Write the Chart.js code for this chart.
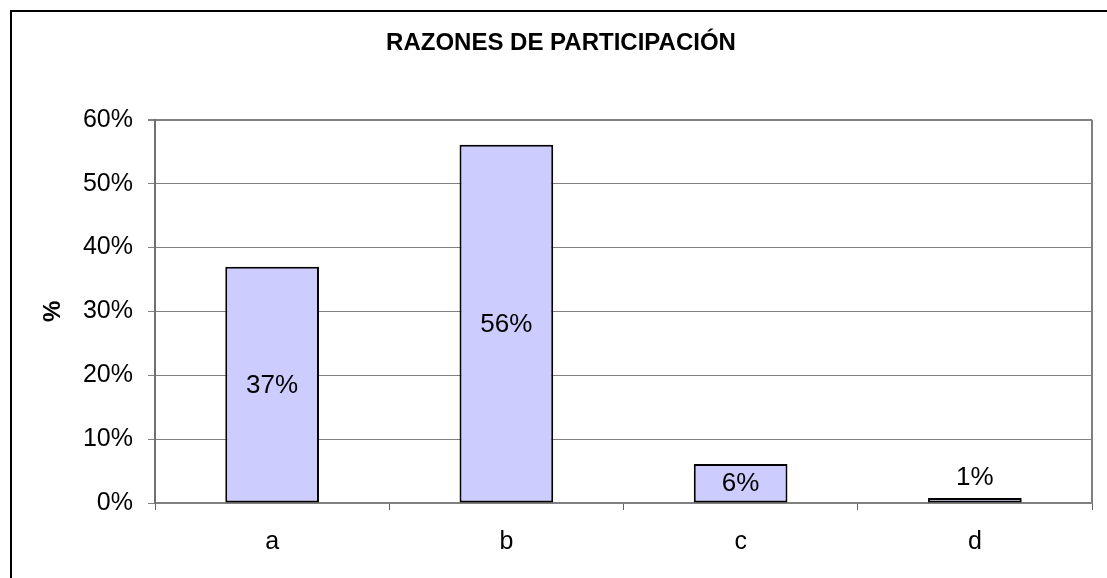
<!DOCTYPE html>
<html>
<head>
<meta charset="utf-8">
<script src="https://cdn.jsdelivr.net/npm/chart.js@4.4.0/dist/chart.umd.min.js"></script>
<style>
  html, body { margin: 0; padding: 0; background: #ffffff; }
  canvas { display: block; }
</style>
</head>
<body>
<canvas id="c" width="1107" height="578"></canvas>
<script>
const categories = ['a', 'b', 'c', 'd'];
const values = [37, 56.1, 6.1, 0.8];
const yTicks = [0, 10, 20, 30, 40, 50, 60];
const chartTitle = 'RAZONES DE PARTICIPACIÓN';
const yAxisTitle = '%';

const FONT = "'Liberation Sans', Arial, Helvetica, sans-serif";

const frame = {
  id: 'frame',
  beforeDraw(chart) {
    const ctx = chart.ctx;
    ctx.save();
    ctx.fillStyle = '#ffffff';
    ctx.fillRect(0, 0, chart.width, chart.height);
    ctx.strokeStyle = '#000000';
    ctx.lineWidth = 2;
    ctx.strokeRect(11, 11, 3000, 3000);
    ctx.restore();
  },
  beforeDatasetsDraw(chart) {
    const ctx = chart.ctx;
    const a = chart.chartArea;
    ctx.save();
    ctx.strokeStyle = '#808080';
    ctx.lineWidth = 2;
    ctx.beginPath();
    ctx.moveTo(a.right, a.top);
    ctx.lineTo(a.right, a.bottom);
    ctx.stroke();
    ctx.restore();
  }
};

const dataLabels = {
  id: 'dataLabels',
  afterDatasetsDraw(chart) {
    const ctx = chart.ctx;
    const meta = chart.getDatasetMeta(0);
    ctx.save();
    ctx.font = '26px ' + FONT;
    ctx.fillStyle = '#000000';
    ctx.textAlign = 'center';
    ctx.textBaseline = 'middle';
    meta.data.forEach((bar, i) => {
      const txt = Math.round(values[i]) + '%';
      const h = bar.base - bar.y;
      let y;
      if (h > 30) {
        y = (bar.y + bar.base) / 2 + 1;
      } else {
        y = bar.y - 20;
      }
      ctx.fillText(txt, bar.x, y);
    });
    ctx.restore();
  }
};

new Chart(document.getElementById('c'), {
  type: 'bar',
  data: {
    labels: categories,
    datasets: [{
      data: values,
      backgroundColor: '#CCCCFF',
      borderColor: '#000000',
      borderWidth: 2,
      borderSkipped: false,
      categoryPercentage: 1.0,
      barPercentage: 0.4
    }]
  },
  options: {
    responsive: false,
    animation: false,
    devicePixelRatio: 1,
    layout: { padding: { left: 30, right: 15, top: 0, bottom: 0 } },
    plugins: {
      legend: { display: false },
      tooltip: { enabled: false },
      title: {
        display: true,
        text: chartTitle,
        color: '#000000',
        font: { family: FONT, size: 24, weight: 'bold' },
        padding: { top: 29, bottom: 62 }
      }
    },
    scales: {
      x: {
        grid: {
          display: true,
          offset: true,
          drawOnChartArea: false,
          drawTicks: true,
          tickLength: 7,
          color: '#606060',
          lineWidth: 1
        },
        border: { display: true, color: '#808080', width: 2 },
        ticks: {
          color: '#000000',
          padding: 17,
          font: { family: FONT, size: 25 }
        },
        afterFit(scale) { scale.height = 75; }
      },
      y: {
        min: 0,
        max: 60,
        afterBuildTicks(scale) { scale.ticks = yTicks.map(v => ({ value: v })); },
        grid: {
          color: '#808080',
          lineWidth: (ctx) => (ctx.tick && ctx.tick.value === 60 ? 2 : 1),
          tickLength: 7,
          drawTicks: true
        },
        border: { display: true, color: '#707070', width: 2 },
        ticks: {
          color: '#000000',
          padding: 15,
          font: { family: FONT, size: 25 },
          callback: (v) => v + '%'
        },
        title: {
          display: true,
          text: yAxisTitle,
          color: '#000000',
          font: { family: FONT, size: 24, weight: 'bold' },
          padding: { top: 9, bottom: 0 }
        },
        afterFit(scale) { scale.width = 125; }
      }
    }
  },
  plugins: [frame, dataLabels]
});
</script>
</body>
</html>
